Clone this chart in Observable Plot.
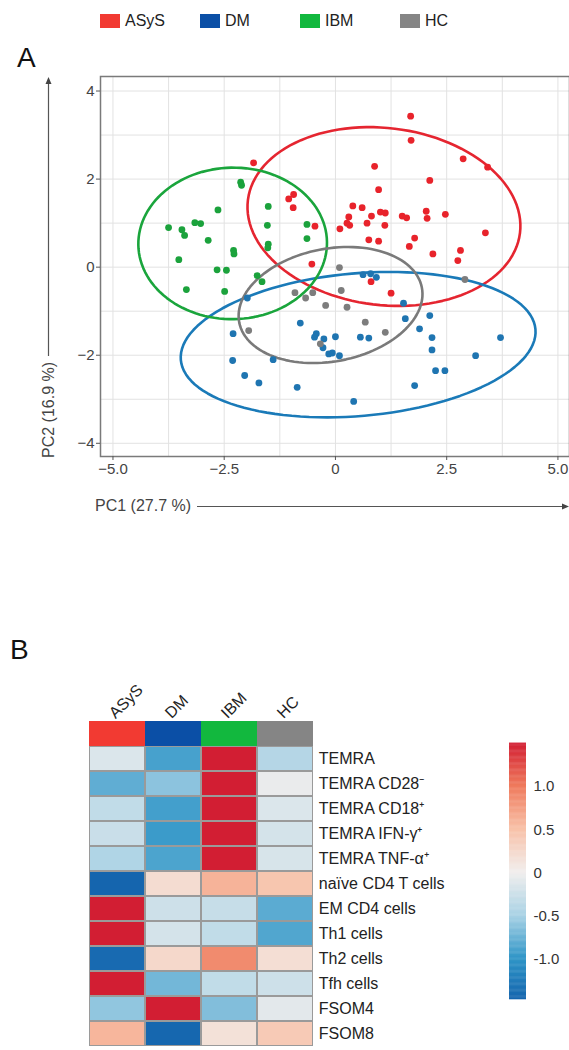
<!DOCTYPE html>
<html><head><meta charset="utf-8">
<script src="https://cdn.jsdelivr.net/npm/d3@7"></script>
<script src="https://cdn.jsdelivr.net/npm/@observablehq/plot@0.6"></script>
<style>
html,body{margin:0;padding:0;background:#fff;overflow:hidden;}
#page{position:relative;width:569px;height:1050px;overflow:hidden;font-family:"Liberation Sans",Arial,Helvetica,sans-serif;color:#222;}
.abs{position:absolute;}
</style></head><body><div id="page"></div>
<script>
// ---------- DATA ----------
const groups = ["ASyS", "DM", "IBM", "HC"];
const groupColors = ["#f23a32", "#0b4fa6", "#12b83e", "#858585"];      // legend / annotation
const pointColors = ["#e8232b", "#1f75b1", "#1ba23c", "#7d7d7d"];      // scatter points
const ellipseColors = ["#e52530", "#1a7ab8", "#1aa53c", "#7a7a7a"];    // ellipses

// PCA scores (PC1, PC2)
const asysX = [-1.84,-1.05,-0.94,-0.95,-0.46,-0.53,1.69,1.70,2.87,3.42,0.88,2.12,0.97,0.39,0.60,0.81,0.71,1.01,1.12,1.11,0.30,0.26,0.10,0.32,1.50,1.60,2.04,2.06,2.47,3.37,0.75,0.97,1.78,1.66,2.19,2.81,2.75,0.80,1.25];
const asysY = [2.37,1.55,1.65,1.35,0.93,0.07,3.43,2.88,2.46,2.27,2.29,1.97,1.76,1.39,1.35,1.16,1.00,1.25,1.23,0.95,1.14,1.00,0.87,0.95,1.16,1.12,1.27,1.11,1.20,0.78,0.62,0.59,0.66,0.47,0.30,0.38,0.15,-0.33,-0.59];
const dmX = [-1.98,-2.30,-2.31,-2.04,-1.72,-1.40,-0.86,-0.79,-0.43,-0.47,-0.26,-0.28,-0.15,0.62,0.79,0.92,1.53,1.57,2.12,1.89,2.17,2.17,2.25,2.46,3.15,3.71,1.78,0.41,0.00,0.56,0.75,-0.07,0.09];
const dmY = [-0.70,-1.51,-2.12,-2.46,-2.63,-2.10,-2.73,-1.27,-1.51,-1.59,-1.63,-1.83,-1.97,-0.17,-0.15,-0.23,-0.82,-1.17,-1.10,-1.40,-1.60,-1.88,-2.35,-2.35,-2.01,-1.60,-2.69,-3.05,-1.58,-1.59,-1.61,-1.95,-2.01];
const ibmX = [-2.13,-2.11,-2.64,-1.51,-1.53,-1.51,-1.52,-0.64,-0.64,-3.75,-3.45,-3.39,-3.16,-3.03,-2.86,-2.29,-2.28,-3.52,-2.66,-2.45,-3.35,-2.49,-1.76,-1.65];
const ibmY = [1.93,1.86,1.30,1.38,0.95,0.52,0.44,0.97,0.65,0.90,0.85,0.72,1.01,0.99,0.61,0.38,0.30,0.17,-0.06,-0.07,-0.51,-0.55,-0.19,-0.33];
const hcX = [-0.91,-0.67,-0.51,-0.22,-1.95,-0.34,0.09,0.13,0.26,0.67,1.12,2.91];
const hcY = [-0.58,-0.70,-0.58,-0.87,-1.44,-1.74,-0.01,-0.53,-0.91,-1.25,-1.48,-0.28];

// confidence ellipses (order: ASyS, DM, IBM, HC)
const ellipseCx = [1.09, 0.51, -2.31, -0.11];
const ellipseCy = [1.15, -1.76, 0.54, -0.86];
const ellipseRx = [3.08, 4.00, 2.12, 2.09];
const ellipseRy = [2.01, 1.62, 1.72, 1.28];
const ellipseAngle = [-7, 5, 1, 11];

const xTicks = [-5, -2.5, 0, 2.5, 5];
const yTicks = [-4, -2, 0, 2, 4];
const xGrid = [-5, -3.75, -2.5, -1.25, 0, 1.25, 2.5, 3.75, 5];
const yGrid = [-4, -3, -2, -1, 0, 1, 2, 3, 4];

// heatmap
const rowLabels = ["TEMRA", "TEMRA CD28\u207B", "TEMRA CD18\u207A", "TEMRA IFN-\u03B3\u207A", "TEMRA TNF-\u03B1\u207A",
  "naïve CD4 T cells", "EM CD4 cells", "Th1 cells", "Th2 cells", "Tfh cells", "FSOM4", "FSOM8"];
const zASyS = [-0.15,-0.80,-0.33,-0.28,-0.45,-1.47, 1.50, 1.50,-1.42, 1.50,-0.60, 0.58];
const zDM   = [-0.90,-0.62,-0.92,-0.95,-0.88, 0.20,-0.25,-0.20, 0.25,-0.72, 1.50,-1.45];
const zIBM  = [ 1.50, 1.50, 1.50, 1.50, 1.50, 0.60,-0.30,-0.33, 0.88,-0.33,-0.66, 0.15];
const zHC   = [-0.42,-0.05,-0.15,-0.20,-0.18, 0.45,-0.82,-0.86, 0.18,-0.25,-0.10, 0.40];
const colorStops = [-1.47, -1.0, -0.5, 0, 0.5, 1.0, 1.5];
const colorRange = ["#1565ae", "#2f95c7", "#a9d2e5", "#f1eeed", "#f8c1a8", "#ef7a5c", "#d21e33"];
const colorbarTicks = [-1, -0.5, 0, 0.5, 1];

// ---------- LAYOUT ----------
const page = document.getElementById("page");
const FONT = '"Liberation Sans", Arial, Helvetica, sans-serif';

function addDiv(html, css) {
  const d = document.createElement("div");
  d.className = "abs"; d.innerHTML = html; Object.assign(d.style, css); page.appendChild(d); return d;
}

// legend
groups.forEach((g, i) => {
  addDiv("", {left: (100 + i * 100) + "px", top: "14px", width: "20px", height: "14px", background: groupColors[i]});
  addDiv(g, {left: (125 + i * 100) + "px", top: "13px", fontSize: "16px", lineHeight: "16px", color: "#222"});
});
addDiv("A", {left: "17px", top: "44px", fontSize: "28px", lineHeight: "28px", color: "#111"});
addDiv("B", {left: "10px", top: "636px", fontSize: "28px", lineHeight: "28px", color: "#111"});

// ---------- PANEL A: PCA scatter ----------
const series = [[asysX, asysY], [dmX, dmY], [ibmX, ibmY], [hcX, hcY]];
function ellipsePoints(i) {
  const a = ellipseRx[i], b = ellipseRy[i], t = ellipseAngle[i] * Math.PI / 180;
  return d3.range(0, 361, 3).map(deg => {
    const s = deg * Math.PI / 180;
    return {x: ellipseCx[i] + a * Math.cos(s) * Math.cos(t) - b * Math.sin(s) * Math.sin(t),
            y: ellipseCy[i] + a * Math.cos(s) * Math.sin(t) + b * Math.sin(s) * Math.cos(t)};
  });
}
const fmtX = d => d === 0 ? "0" : d.toFixed(1).replace("-", "\u2212");
const fmtY = d => String(d).replace("-", "\u2212");

const scatter = Plot.plot({
  width: 569, height: 470,
  marginTop: 16, marginBottom: 74, marginLeft: 100, marginRight: 0,
  style: {fontFamily: FONT, fontSize: "15px", color: "#444", background: "transparent"},
  x: {domain: [-5.28, 5.26]},
  y: {domain: [-4.30, 4.33]},
  marks: [
    Plot.gridX({ticks: xGrid, stroke: "#e2e2e2", strokeOpacity: 1}),
    Plot.gridY({ticks: yGrid, stroke: "#e2e2e2", strokeOpacity: 1}),
    Plot.frame({stroke: "#7a7a7a", strokeWidth: 1.5}),
    Plot.axisX({ticks: xTicks, tickFormat: fmtX, tickSize: 4, tickPadding: 3, label: null, stroke: "#555"}),
    Plot.axisY({ticks: yTicks, tickFormat: fmtY, tickSize: 4, tickPadding: 2, label: null, stroke: "#555"}),
    ...groups.map((g, i) => Plot.line(ellipsePoints(i), {x: "x", y: "y", stroke: ellipseColors[i], strokeWidth: 2.6})),
    ...series.map(([xs, ys], i) => Plot.dot(xs.map((x, k) => ({x, y: ys[k]})),
      {x: "x", y: "y", r: 3.4, fill: pointColors[i], stroke: "none"}))
  ]
});
scatter.style.position = "absolute"; scatter.style.left = "0px"; scatter.style.top = "60px";
page.appendChild(scatter);
{
  const svg = d3.select(scatter);
  const ink = "#444";
  // x axis title and arrow
  svg.append("text").attr("x", 95).attr("y", 451).attr("font-size", 16).attr("fill", ink)
    .attr("text-anchor", "start").attr("font-family", FONT).text("PC1 (27.7 %)");
  svg.append("line").attr("x1", 197).attr("x2", 566).attr("y1", 446.5).attr("y2", 446.5)
    .attr("stroke", "#555").attr("stroke-width", 1.2);
  svg.append("path").attr("d", "M569,446.5 L562,443.5 L562,449.5 Z").attr("fill", "#444");
  // y axis title and arrow
  svg.append("text").attr("transform", "translate(54,398) rotate(-90)").attr("font-size", 16)
    .attr("text-anchor", "start").attr("fill", ink).attr("font-family", FONT).text("PC2 (16.9 %)");
  svg.append("line").attr("x1", 48.5).attr("x2", 48.5).attr("y1", 296).attr("y2", 22)
    .attr("stroke", "#555").attr("stroke-width", 1.2);
  svg.append("path").attr("d", "M48.5,17 L45.5,24 L51.5,24 Z").attr("fill", "#444");
}

// ---------- PANEL B: heatmap ----------
const ANNOT = "__annotation__";
const zs = [zASyS, zDM, zIBM, zHC];
const cells = [];
rowLabels.forEach((r, j) => groups.forEach((g, i) => cells.push({row: r, group: g, value: zs[i][j]})));

const heat = Plot.plot({
  width: 569, height: 410,
  marginTop: 77.7, marginBottom: 0, marginLeft: 88.3, marginRight: 255.7,
  style: {fontFamily: FONT, fontSize: "16px", color: "#222", background: "transparent", overflow: "visible"},
  x: {domain: groups, padding: 0, axis: null},
  y: {domain: [ANNOT, ...rowLabels], padding: 0, axis: null},
  color: {type: "linear", domain: colorStops, range: colorRange, clamp: true},
  marks: [
    ...groups.map((g, i) => Plot.cell([{group: g, row: ANNOT}], {x: "group", y: "row", fill: groupColors[i], inset: 0})),
    Plot.cell(cells, {x: "group", y: "row", fill: "value", stroke: "#9a9a9a", strokeWidth: 1, inset: 0.5}),
    Plot.text(groups, {x: d => d, frameAnchor: "top", rotate: -45, textAnchor: "start", dx: -10, dy: -7, fontSize: 16, fill: "#222"}),
    Plot.text(rowLabels, {y: d => d, frameAnchor: "right", textAnchor: "start", dx: 5, fontSize: 16, fill: "#222"})
  ]
});
heat.style.position = "absolute"; heat.style.left = "0px"; heat.style.top = "640px";
page.appendChild(heat);

// colorbar
const cbStep = 0.01;
const cbData = d3.range(colorStops[0], colorStops[colorStops.length - 1], cbStep).map(v => ({v}));
const colorbar = Plot.plot({
  width: 69, height: 280,
  marginTop: 13, marginBottom: 10.7, marginLeft: 9, marginRight: 43,
  style: {fontFamily: FONT, fontSize: "15px", color: "#333", background: "transparent", overflow: "visible"},
  y: {domain: [colorStops[0], colorStops[colorStops.length - 1]]},
  color: {type: "linear", domain: colorStops, range: colorRange, clamp: true},
  marks: [
    Plot.rect(cbData, {y1: "v", y2: d => d.v + cbStep * 1.5, fill: "v"}),
    Plot.axisY({anchor: "right", ticks: colorbarTicks, tickSize: 0, tickPadding: 7,
      tickFormat: d => d === 0 ? "0" : d.toFixed(1), label: null})
  ]
});
colorbar.style.position = "absolute"; colorbar.style.left = "500px"; colorbar.style.top = "730px";
page.appendChild(colorbar);
</script></body></html>
